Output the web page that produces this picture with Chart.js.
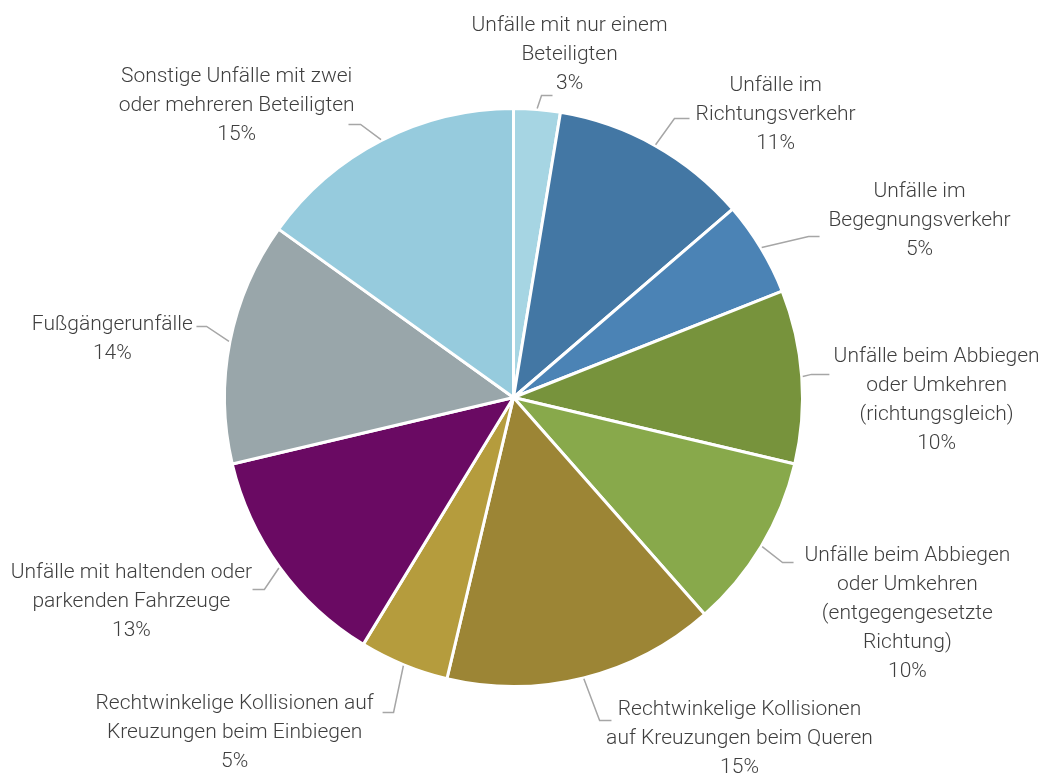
<!DOCTYPE html>
<html>
<head>
<meta charset="utf-8">
<script src="https://cdn.jsdelivr.net/npm/chart.js@4.4.1/dist/chart.umd.min.js"></script>
<style>
  html, body { margin: 0; padding: 0; background: #fff; }
  #wrap { width: 1046px; height: 774px; }
</style>
</head>
<body>
<div id="wrap"><canvas id="pie" width="1046" height="774"></canvas></div>
<script>
// slice categories (clockwise from the top), each entry = label lines
var categories = [
  ['Unfälle mit nur einem', 'Beteiligten'],
  ['Unfälle im', 'Richtungsverkehr'],
  ['Unfälle im', 'Begegnungsverkehr'],
  ['Unfälle beim Abbiegen', 'oder Umkehren', '(richtungsgleich)'],
  ['Unfälle beim Abbiegen', 'oder Umkehren', '(entgegengesetzte', 'Richtung)'],
  ['Rechtwinkelige Kollisionen', 'auf Kreuzungen beim Queren'],
  ['Rechtwinkelige Kollisionen auf', 'Kreuzungen beim Einbiegen'],
  ['Unfälle mit haltenden oder', 'parkenden Fahrzeuge'],
  ['Fußgängerunfälle'],
  ['Sonstige Unfälle mit zwei', 'oder mehreren Beteiligten']
];
// share in percent
var shares = [2.6, 11.1, 5.3, 9.7, 9.8, 15.2, 5.0, 12.6, 13.6, 15.1];

var sliceColors = ['#a6d5e3', '#4377a4', '#4b83b5', '#77933c', '#88a94b',
                   '#9c8535', '#b59c3d', '#6a0a63', '#99a6aa', '#96cbdd'];

// label placement in units of the pie radius, relative to the centre:
// [label centre x, first line y, leader end x, leader end y, elbow x]
var labelPlace = [
  [ 0.194, -1.287,  0.135, -1.045,  0.097],
  [ 0.907, -1.080,  0.609, -0.965,  0.557],
  [ 1.405, -0.713,  1.059, -0.557,  1.021],
  [ 1.464, -0.142,  1.093, -0.080,  1.031],
  [ 1.363,  0.547,  0.969,  0.571,  0.931],
  [ 0.782,  1.080,  0.339,  1.118,  0.298],
  [-0.965,  1.059, -0.453,  1.090, -0.415],
  [-1.322,  0.606, -0.903,  0.664, -0.862],
  [-1.388, -0.253, -1.097, -0.246, -1.062],
  [-0.958, -1.111, -0.571, -0.945, -0.529]
];

var lineGap = 29;
var fontFamily = 'Roboto, "Liberation Sans", sans-serif';

var leaderLabels = {
  id: 'leaderLabels',
  afterDatasetsDraw: function(chart) {
    var ctx = chart.ctx;
    var meta = chart.getDatasetMeta(0);
    ctx.save();
    meta.data.forEach(function(arc, i) {
      var p = arc.getProps(['x', 'y', 'startAngle', 'endAngle', 'outerRadius'], true);
      var r = p.outerRadius;
      var mid = (p.startAngle + p.endAngle) / 2;
      var pl = labelPlace[i];
      var sx = p.x + (r + 1) * Math.cos(mid);
      var sy = p.y + (r + 1) * Math.sin(mid);
      var ex = p.x + pl[2] * r, ey = p.y + pl[3] * r;
      var bx = p.x + pl[4] * r;
      ctx.strokeStyle = '#a6a6a6';
      ctx.lineWidth = 1.5;
      ctx.beginPath();
      ctx.moveTo(sx, sy);
      ctx.lineTo(bx, ey);
      ctx.lineTo(ex, ey);
      ctx.stroke();

      var lines = categories[i].concat([Math.round(shares[i]) + '%']);
      ctx.fillStyle = '#3f3f3f';
      ctx.font = '300 21px ' + fontFamily;
      ctx.textAlign = 'center';
      ctx.textBaseline = 'middle';
      var lx = p.x + pl[0] * r, ly = p.y + pl[1] * r;
      lines.forEach(function(t, k) {
        ctx.fillText(t, lx, ly + k * lineGap);
      });
    });
    ctx.restore();
  }
};

new Chart(document.getElementById('pie'), {
  type: 'pie',
  data: {
    labels: categories.map(function(c) { return c.join(' '); }),
    datasets: [{
      data: shares,
      backgroundColor: sliceColors,
      borderColor: '#ffffff',
      borderWidth: 3
    }]
  },
  options: {
    responsive: false,
    animation: false,
    layout: { padding: { top: 107, bottom: 86, left: 223, right: 242 } },
    plugins: {
      legend: { display: false },
      tooltip: { enabled: false }
    }
  },
  plugins: [leaderLabels]
});
</script>
</body>
</html>
